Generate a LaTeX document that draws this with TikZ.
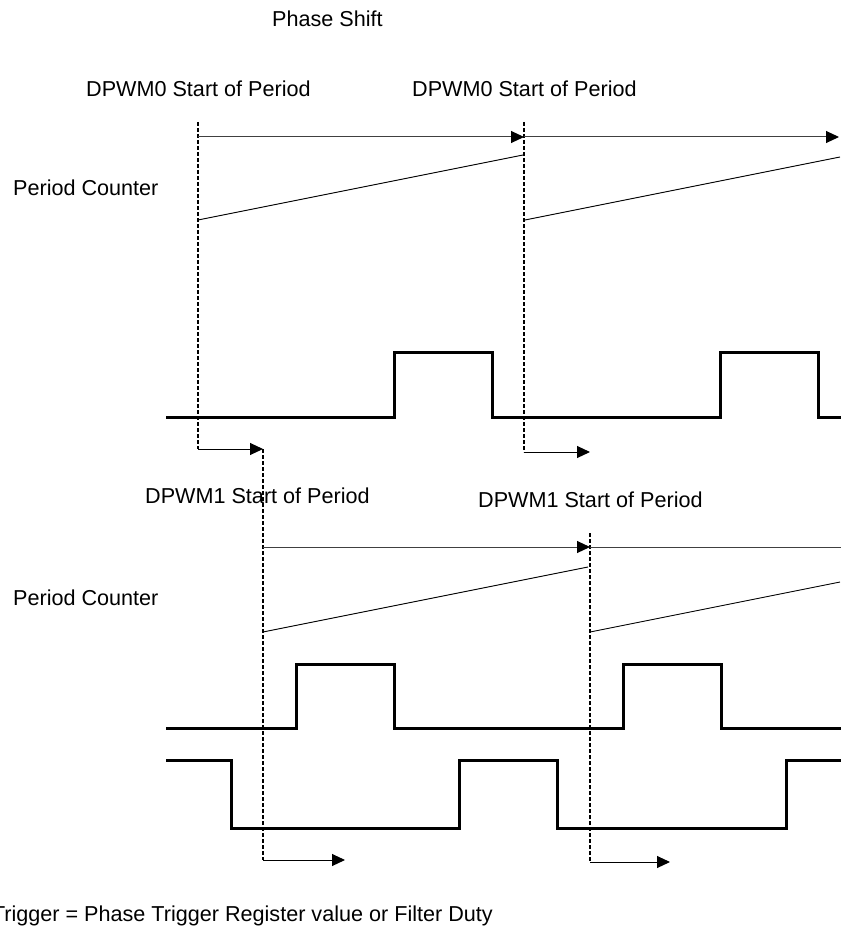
\documentclass[tikz,border=0pt]{standalone}
\usepackage{fontspec}
\setmainfont{Liberation Sans}
\usetikzlibrary{arrows.meta}
\begin{document}
\begin{tikzpicture}[x=1pt,y=-1pt,
  lbl/.style={anchor=base west,inner sep=0pt,font=\fontsize{21.6}{26}\selectfont},
  wave/.style={line width=3pt,line join=miter},
  ramp/.style={line width=0.9pt},
  spanline/.style={line width=1pt,draw=black!75},
  spanarrow/.style={spanline,-{Triangle[length=13pt,width=12pt,black]}},
  marker/.style={line width=1.4pt,dash pattern=on 4pt off 2pt},
  shiftarrow/.style={line width=1pt,-{Triangle[length=13pt,width=12pt]}}]
\useasboundingbox (0,0) rectangle (840,936);

% labels
\node[lbl] (ps) at (272,27) {Phase Shift};
\node[lbl] (d0a) at (86,97) {DPWM0 Start of Period};
\node[lbl] (d0b) at (412,97) {DPWM0 Start of Period};
\node[lbl] (pc0) at (13,195) {Period Counter};
\node[lbl] (d1a) at (145,503) {DPWM1 Start of Period};
\node[lbl] (d1b) at (478,507) {DPWM1 Start of Period};
\node[lbl] (pc1) at (13,605) {Period Counter};
\node[lbl,anchor=base east] (trig) at (493,921) {Trigger = Phase Trigger Register value or Filter Duty};

% coordinates
\coordinate (a0t) at (198,122);
\coordinate (a0b) at (198,449);
\coordinate (b0t) at (524,122);
\coordinate (b0b) at (524,452);
\coordinate (a1t) at (263,449);
\coordinate (a1b) at (263,860);
\coordinate (b1t) at (590,533);
\coordinate (b1b) at (590,862);

% DPWM0 markers
\draw[marker] (a0t) -- (a0b);
\draw[marker] (b0t) -- (b0b);
\draw[shiftarrow] (a0b) -- (a1t);
\coordinate (b0e) at (590,452);
\draw[shiftarrow] (b0b) -- (b0e);

% DPWM0 period spans
\coordinate (s0a) at (198,137);
\coordinate (s0b) at (524,137);
\coordinate (s0c) at (839,137);
\draw[spanarrow] (s0a) -- (s0b);
\draw[spanarrow] (s0b) -- (s0c);

% DPWM0 ramps
\coordinate (r0a) at (198,220);
\coordinate (r0b) at (523,155);
\coordinate (r0c) at (525,220);
\coordinate (r0d) at (840,157);
\draw[ramp] (r0a) -- (r0b);
\draw[ramp] (r0c) -- (r0d);

% DPWM0 waveform
\draw[wave] (166,417) -- (394,417) -- (394,352) -- (492,352) -- (492,417)
  -- (720,417) -- (720,352) -- (818,352) -- (818,417) -- (842,417);

% DPWM1 markers
\draw[marker] (a1t) -- (a1b);
\draw[marker] (b1t) -- (b1b);
\coordinate (a1e) at (345,860);
\coordinate (b1e) at (670,862);
\draw[shiftarrow] (a1b) -- (a1e);
\draw[shiftarrow] (b1b) -- (b1e);

% DPWM1 period spans
\coordinate (s1a) at (263,547);
\coordinate (s1b) at (590,547);
\coordinate (s1c) at (842,547);
\draw[spanarrow] (s1a) -- (s1b);
\draw[spanline] (s1b) -- (s1c);

% DPWM1 ramps
\coordinate (r1a) at (263,632);
\coordinate (r1b) at (588,567);
\coordinate (r1c) at (590,632);
\coordinate (r1d) at (840,582);
\draw[ramp] (r1a) -- (r1b);
\draw[ramp] (r1c) -- (r1d);

% DPWM1 waveforms
\draw[wave] (166,728) -- (296,728) -- (296,664) -- (394,664) -- (394,728)
  -- (623,728) -- (623,664) -- (721,664) -- (721,728) -- (842,728);
\draw[wave] (166,760) -- (231,760) -- (231,828) -- (459,828) -- (459,760)
  -- (557,760) -- (557,828) -- (786,828) -- (786,760) -- (842,760);
\end{tikzpicture}
\end{document}
